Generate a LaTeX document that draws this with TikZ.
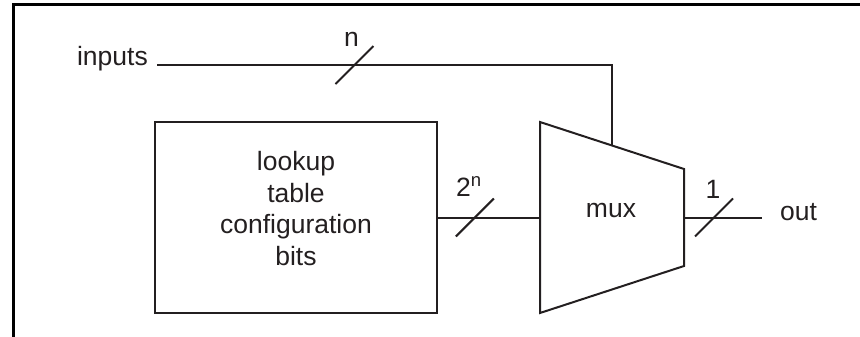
\documentclass[tikz,border=0pt]{standalone}
\usepackage{fontspec}
\setmainfont{Liberation Sans}
\usetikzlibrary{positioning, calc}
\definecolor{Ink}{RGB}{35,31,32}

\begin{document}
\begin{tikzpicture}[
  x=1pt, y=-1pt,
  font=\fontsize{26.5}{31.5}\selectfont,
  every node/.style={text=Ink},
  wire/.style={draw=Ink, line width=2pt},
  box/.style={draw=Ink, line width=2.4pt, minimum width=282pt, minimum height=191pt, inner sep=0pt},
  lbl/.style={inner sep=0pt}
]
  \useasboundingbox (0,0) rectangle (860,337);
  % frame
  \draw[line width=3pt] (13,337) -- (13,5) -- (860,5);

  \node[box] (lut) at (296,217.5) {};
  \node[lbl, align=center] (luttext) at ($(lut)+(0,-9)$) {lookup\\table\\configuration\\bits};

  % mux outline
  \coordinate (mtl) at (540,122);
  \coordinate (mtr) at (684,169);
  \coordinate (mbr) at (684,266);
  \coordinate (mbl) at (540,313);
  \draw[wire, line join=miter] (mtl) -- (mtr) -- (mbr) -- (mbl) -- cycle;
  \node[lbl] (mux) at (611,210) {mux};
  \coordinate (muxin) at (mtl |- lut.east);
  \coordinate (muxout) at (mtr |- lut.east);
  \coordinate (sel) at ($(mtl)!0.5!(mtr)$);

  \node[lbl, anchor=base east] (inputs) at (148,66) {inputs};
  \node[lbl, anchor=base west] (out) at (780,220) {out};
  \coordinate (inpt) at ([xshift=9pt,yshift=1pt]inputs.base east);
  \coordinate (outend) at ([xshift=-18pt]out.west |- muxout);

  \draw[wire] (inpt) -- coordinate[pos=0.434] (bn) (inpt -| sel) -- (sel);
  \draw[wire] (lut.east) -- coordinate[pos=0.36] (b2) (muxin);
  \draw[wire] (muxout) -- coordinate[pos=0.385] (b1) (outend);

  % bus width marks
  \foreach \b in {bn,b2,b1}
    \draw[wire] ($(\b)+(-19,19)$) -- ($(\b)+(19,-19)$);
  \node[lbl] at ($(bn)+(-3,-26)$) {n};
  \node[lbl] at ($(b2)+(-6,-31)$) {2\textsuperscript{n}};
  \node[lbl] at ($(b1)+(-1,-28)$) {1};
\end{tikzpicture}
\end{document}
